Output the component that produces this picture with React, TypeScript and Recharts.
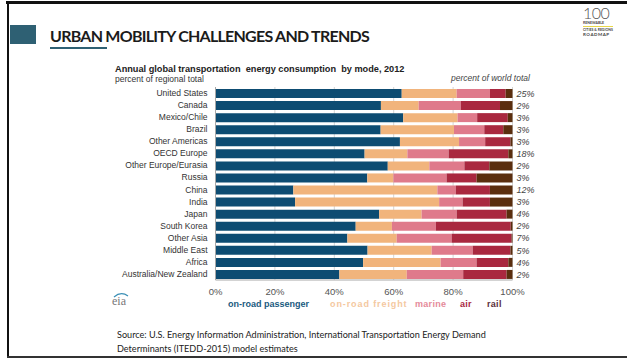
import { Bar, BarChart, CartesianGrid, LabelList, XAxis, YAxis } from "recharts";

const regions = [
  "United States", "Canada", "Mexico/Chile", "Brazil", "Other Americas", "OECD Europe",
  "Other Europe/Eurasia", "Russia", "China", "India", "Japan", "South Korea",
  "Other Asia", "Middle East", "Africa", "Australia/New Zealand",
];
const passenger = [62.7, 55.7, 63.2, 55.6, 62.1, 50.2, 58.0, 51.1, 26.2, 26.8, 55.1, 47.2, 44.4, 51.2, 49.7, 41.7];
const freight = [18.5, 12.7, 18.3, 24.7, 19.9, 14.4, 14.0, 8.8, 48.5, 48.5, 14.3, 12.2, 16.6, 21.6, 26.1, 22.7];
const marine = [11.2, 14.2, 6.6, 10.2, 8.8, 13.9, 11.8, 17.9, 6.2, 7.9, 11.8, 14.8, 18.5, 13.8, 12.1, 19.0];
const air = [5.3, 13.2, 10.3, 6.4, 8.5, 20.1, 8.4, 10.1, 11.5, 9.2, 16.8, 25.2, 20.2, 12.7, 10.7, 14.6];
const rail = [2.3, 4.2, 1.6, 3.1, 0.7, 1.4, 7.8, 12.1, 7.6, 7.6, 2.0, 0.6, 0.3, 0.7, 1.4, 2.0];
const worldShare = [25, 2, 3, 3, 3, 18, 2, 3, 12, 3, 4, 2, 7, 5, 4, 2];
const xTicks = [0, 20, 40, 60, 80, 100];

const series = [
  { key: "passenger", name: "on-road passenger", color: "#0d4c72", text: "#1a5a80", spacing: 0 },
  { key: "freight", name: "on-road freight", color: "#f1b47c", text: "#f4c8a0", spacing: 0.9 },
  { key: "marine", name: "marine", color: "#df7a8b", text: "#e58a9a", spacing: 0.3 },
  { key: "air", name: "air", color: "#a9283f", text: "#a9283f", spacing: 0.3 },
  { key: "rail", name: "rail", color: "#5a2e0e", text: "#5a2e3a", spacing: 0.3 },
];

const data = regions.map((region, i) => ({
  region,
  passenger: passenger[i],
  freight: freight[i],
  marine: marine[i],
  air: air[i],
  rail: rail[i],
  world: worldShare[i],
}));

const chartFont = "'Liberation Sans', Arial, sans-serif";
// legend items sit at fixed spots under the plot, as in the original slide
const legendLeft = [228, 330, 415, 460, 487];

function abs(left: number, top: number, extra: React.CSSProperties = {}): React.CSSProperties {
  return { position: "absolute", left, top, whiteSpace: "pre", ...extra };
}

export default function App() {
  return (
    <div style={{ position: "absolute", left: 0, top: 0, width: 627, height: 361, background: "#fff", overflow: "hidden", fontFamily: "Lato, sans-serif" }}>
      {/* slide frame */}
      <div style={abs(6, 1, { width: 621, height: 3, background: "#111" })} />
      <div style={abs(7, 1, { width: 2, height: 357, background: "#111" })} />
      <div style={abs(7, 356, { width: 620, height: 2, background: "#333" })} />

      {/* slide heading */}
      <div style={abs(10, 25, { width: 26, height: 19, background: "#2e6073" })} />
      <div style={abs(50, 26, { fontSize: 16, fontWeight: 700, color: "#1b1b1b", letterSpacing: -0.75 })}>
        URBAN MOBILITY CHALLENGES AND TRENDS
      </div>
      <div style={abs(50, 47, { width: 57, height: 2, background: "#2e6073" })} />

      {/* logo */}
      <div style={abs(583, 3, { fontSize: 16, fontWeight: 300, color: "#555", letterSpacing: -0.5 })}>100</div>
      <div style={abs(583, 21, { fontSize: 3.5, fontWeight: 700, color: "#444" })}>RENEWABLE</div>
      <div style={abs(583, 26, { width: 30, height: 1, background: "#e8d84a" })} />
      <div style={abs(583, 28, { fontSize: 3.5, fontWeight: 700, color: "#444" })}>CITIES &amp; REGIONS</div>
      <div style={abs(583, 32, { fontSize: 4.5, fontWeight: 700, color: "#444", letterSpacing: 0.5 })}>ROADMAP</div>

      {/* chart titles */}
      <div style={abs(115, 64, { fontFamily: chartFont, fontSize: 9.2, fontWeight: 700, color: "#222" })}>
        {"Annual global transportation  energy consumption  by mode, 2012"}
      </div>
      <div style={abs(115, 74, { fontFamily: chartFont, fontSize: 8.5, color: "#333" })}>percent of regional total</div>
      <div style={abs(451, 73, { fontFamily: chartFont, fontSize: 8.5, fontStyle: "italic", color: "#444" })}>percent of world total</div>

      <div style={{ position: "absolute", left: 0, top: 0 }}>
        <BarChart width={627} height={361} data={data} layout="vertical" margin={{ top: 87, right: 114.5, bottom: 51, left: 0 }}>
          <CartesianGrid horizontal={false} stroke="#d4d4d4" />
          <XAxis
            type="number"
            domain={[0, 100]}
            ticks={xTicks}
            tickFormatter={(v) => `${v}%`}
            axisLine={{ stroke: "#a8a8a8" }}
            tickLine={false}
            tick={{ fontSize: 9.5, fill: "#555", fontFamily: chartFont }}
          />
          <YAxis
            type="category"
            dataKey="region"
            width={215.5}
            interval={0}
            axisLine={{ stroke: "#a8a8a8" }}
            tickLine={false}
            tick={{ fontSize: 8.5, fill: "#333", fontFamily: chartFont }}
          />
          {series.map((s) => (
            <Bar key={s.key} dataKey={s.key} name={s.name} stackId="mode" fill={s.color} barSize={9} isAnimationActive={false}>
              {s.key === "rail" && (
                <LabelList
                  dataKey="world"
                  position="right"
                  offset={4}
                  formatter={(v: any) => `${v}%`}
                  style={{ fontSize: 9, fontStyle: "italic", fill: "#444", fontFamily: chartFont }}
                />
              )}
            </Bar>
          ))}
        </BarChart>
      </div>

      {/* legend */}
      {series.map((s, i) => (
        <div key={s.key} style={abs(legendLeft[i], 299, { fontFamily: chartFont, fontSize: 9, fontWeight: 700, color: s.text, letterSpacing: s.spacing })}>
          {s.name}
        </div>
      ))}

      {/* eia mark */}
      <div style={abs(112, 294, { fontFamily: "'Liberation Serif', serif", fontSize: 12, color: "#777" })}>eia</div>
      <svg style={abs(113, 292)} width={16} height={6}>
        <path d="M1 5 Q8 -1 15 4" stroke="#3a8fb5" strokeWidth={1.2} fill="none" />
      </svg>

      {/* source */}
      <div style={abs(117, 328, { fontSize: 9.1, color: "#222", lineHeight: "14px" })}>
        {"Source: U.S. Energy Information Administration, International Transportation Energy Demand\nDeterminants (ITEDD-2015) model estimates"}
      </div>
    </div>
  );
}
